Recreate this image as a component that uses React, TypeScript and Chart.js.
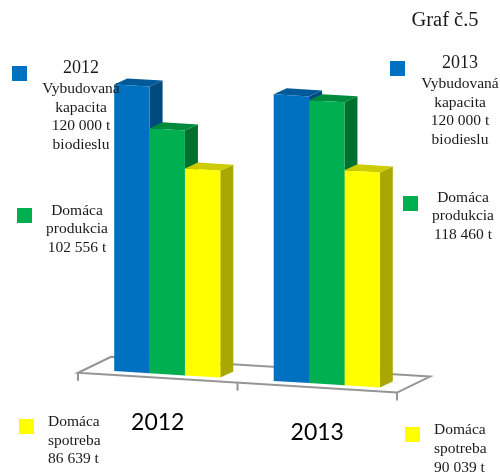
import { useEffect, useRef } from "react";
import { Chart, registerables } from "chart.js";

Chart.register(...registerables);

// Biodiesel in Slovakia, tonnes per year
const years = ["2012", "2013"];
const capacity = [120000, 120000];
const production = [102556, 118460];
const consumption = [86639, 90039];

const seriesNames = ["Vybudovaná kapacita", "Domáca produkcia", "Domáca spotreba"];
const frontColors = ["#0070C0", "#00B050", "#FFFF00"];
const sideColors = ["#004A80", "#00702F", "#A8A800"];
const topColors = ["#005A9A", "#008A3C", "#CCCC00"];

const SERIF = '"Liberation Serif", serif';
const SHEAR = 0.062;
const SHEAR_ORIGIN = 88;
const DEPTH_X = 13;
const DEPTH_Y = -6.8;
const FLOOR_COLOR = "#959595";

const tonnes = (v: number) => `${Math.floor(v / 1000)} ${String(v % 1000).padStart(3, "0")} t`;

// Legend blocks placed around the plot: swatch, then lines of text
type Note = { swatch: [number, number]; color: string; x: number; align: CanvasTextAlign; lines: [string, number, number][] };
const notes: Note[] = [
  {
    swatch: [12, 66], color: frontColors[0], x: 81, align: "center",
    lines: [[years[0], 68, 18], ["Vybudovaná", 88, 15.5], ["kapacita", 107, 15.5], [tonnes(capacity[0]), 125, 15.5], ["biodieslu", 144, 15.5]],
  },
  {
    swatch: [17, 208], color: frontColors[1], x: 77, align: "center",
    lines: [["Domáca", 210, 15.5], ["produkcia", 228, 15.5], [tonnes(production[0]), 247, 15.5]],
  },
  {
    swatch: [19, 419], color: frontColors[2], x: 48, align: "left",
    lines: [["Domáca", 421, 15.5], ["spotreba", 440, 15.5], [tonnes(consumption[0]), 458, 15.5]],
  },
  {
    swatch: [390, 61], color: frontColors[0], x: 460, align: "center",
    lines: [[years[1], 63, 18], ["Vybudovaná", 83, 15.5], ["kapacita", 102, 15.5], [tonnes(capacity[1]), 120, 15.5], ["biodieslu", 139, 15.5]],
  },
  {
    swatch: [403, 196], color: frontColors[1], x: 463, align: "center",
    lines: [["Domáca", 197, 15.5], ["produkcia", 215, 15.5], [tonnes(production[1]), 234, 15.5]],
  },
  {
    swatch: [405, 427], color: frontColors[2], x: 434, align: "left",
    lines: [["Domáca", 429, 15.5], ["spotreba", 448, 15.5], [tonnes(consumption[1]), 467, 15.5]],
  },
];

// Draws the tilted floor and the side and top faces, and tilts the bars with them
const extrusion = {
  id: "extrusion",
  beforeDatasetsDraw(chart: any) {
    const { ctx, scales } = chart;
    const xs = scales.x;
    const base = scales.y.getPixelForValue(0);
    ctx.save();
    ctx.transform(1, SHEAR, 0, 1, 0, -SHEAR * SHEAR_ORIGIN);

    const left = xs.left - 9.5;
    const right = xs.right - 9.5;
    const mid = (left + right) / 2;
    const front = base + 4;
    ctx.strokeStyle = FLOOR_COLOR;
    ctx.lineWidth = 2;
    ctx.lineJoin = "miter";
    ctx.beginPath();
    ctx.moveTo(left, front);
    ctx.lineTo(right, front);
    ctx.lineTo(right + 33, front - 18);
    ctx.lineTo(left + 33, front - 18);
    ctx.closePath();
    ctx.stroke();
    ctx.beginPath();
    [left, mid, right].forEach((x) => {
      ctx.moveTo(x, front);
      ctx.lineTo(x, front + 8);
    });
    ctx.stroke();

    chart.data.datasets.forEach((_: unknown, i: number) => {
      chart.getDatasetMeta(i).data.forEach((bar: any) => {
        const l = bar.x - bar.width / 2;
        const r = bar.x + bar.width / 2;
        ctx.fillStyle = sideColors[i];
        ctx.beginPath();
        ctx.moveTo(r, bar.y);
        ctx.lineTo(r + DEPTH_X, bar.y + DEPTH_Y);
        ctx.lineTo(r + DEPTH_X, base + DEPTH_Y);
        ctx.lineTo(r, base);
        ctx.closePath();
        ctx.fill();
        ctx.fillStyle = topColors[i];
        ctx.beginPath();
        ctx.moveTo(l, bar.y);
        ctx.lineTo(l + DEPTH_X, bar.y + DEPTH_Y);
        ctx.lineTo(r + DEPTH_X, bar.y + DEPTH_Y);
        ctx.lineTo(r, bar.y);
        ctx.closePath();
        ctx.fill();
      });
    });
  },
  afterDatasetsDraw(chart: any) {
    const { ctx, scales } = chart;
    ctx.restore();

    ctx.textBaseline = "middle";
    ctx.fillStyle = "#000000";
    ctx.textAlign = "center";
    ctx.font = "23px Lato";
    years.forEach((year, i) => {
      const x = scales.x.getPixelForValue(i) - 9.5;
      const y = 423 + (i * 160) * SHEAR;
      ctx.fillText(year, x, y);
    });

    ctx.fillStyle = "#1a1a1a";
    ctx.font = `20.5px ${SERIF}`;
    ctx.fillText("Graf č.5", 445, 20.5);

    notes.forEach((note) => {
      ctx.fillStyle = note.color;
      ctx.fillRect(note.swatch[0], note.swatch[1], 15, 15);
      ctx.fillStyle = "#1a1a1a";
      ctx.textAlign = note.align;
      note.lines.forEach(([text, y, size]) => {
        ctx.font = `${size}px ${SERIF}`;
        ctx.fillText(text, note.x, y + 0.5);
      });
    });
  },
};

export default function App() {
  const ref = useRef<HTMLCanvasElement>(null);

  useEffect(() => {
    const chart = new Chart(ref.current!, {
      type: "bar",
      data: {
        labels: years,
        datasets: [capacity, production, consumption].map((data, i) => ({
          label: seriesNames[i],
          data,
          backgroundColor: frontColors[i],
          borderWidth: 0,
          barPercentage: 1,
          categoryPercentage: 0.665,
          clip: false as const,
        })),
      },
      options: {
        responsive: false,
        animation: false,
        layout: { padding: { left: 87.5, right: 93.5, top: 35, bottom: 106.6 } },
        plugins: { legend: { display: false }, tooltip: { enabled: false } },
        scales: {
          x: { display: false },
          y: { display: false, min: 0, max: 140000 },
        },
      },
      plugins: [extrusion],
    });
    return () => chart.destroy();
  }, []);

  return (
    <canvas
      ref={ref}
      width={500}
      height={476}
      style={{ position: "absolute", left: 0, top: 0, background: "#ffffff" }}
    />
  );
}
